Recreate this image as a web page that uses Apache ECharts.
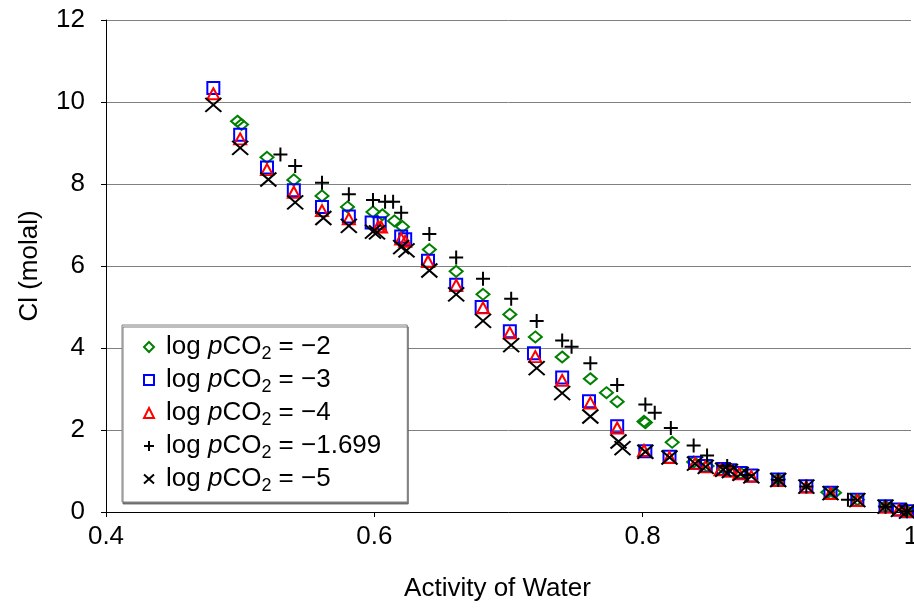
<!DOCTYPE html>
<html>
<head>
<meta charset="utf-8">
<script src="https://cdn.jsdelivr.net/npm/echarts@6/dist/echarts.min.js"></script>
<style>html,body{margin:0;padding:0;background:#fff}#c{width:914px;height:608px}</style>
</head>
<body>
<div id="c"></div>
<script>
// ---- data (x = activity of water, y = Cl molal) ----
var pco2Labels = ['−2', '−3', '−4', '−1.699', '−5'];
var xTicks = ['0.4', '0.6', '0.8', '1'];
var yTicks = ['0', '2', '4', '6', '8', '10', '12'];

var seriesM2 = [[0.498,9.53],[0.501,9.45],[0.520,8.65],[0.540,8.10],[0.561,7.71],[0.580,7.44],[0.599,7.32],[0.606,7.25],[0.615,7.10],[0.621,6.96],[0.641,6.40],[0.661,5.87],[0.681,5.31],[0.701,4.82],[0.720,4.27],[0.740,3.78],[0.761,3.25],[0.773,2.91],[0.781,2.69],[0.801,2.21],[0.802,2.18],[0.822,1.70],[0.838,1.22],[0.848,1.12],[0.861,1.05],[0.873,0.95],[0.901,0.80],[0.938,0.48],[0.943,0.47],[0.960,0.30],[0.981,0.14],[0.997,0.02]];
var seriesM3 = [[0.480,10.34],[0.500,9.20],[0.520,8.40],[0.540,7.85],[0.561,7.44],[0.581,7.21],[0.598,7.06],[0.604,7.04],[0.620,6.72],[0.623,6.65],[0.640,6.13],[0.661,5.54],[0.680,5.00],[0.701,4.41],[0.719,3.87],[0.740,3.28],[0.760,2.70],[0.781,2.09],[0.802,1.48],[0.820,1.35],[0.839,1.20],[0.847,1.12],[0.860,1.05],[0.865,1.02],[0.873,0.95],[0.881,0.89],[0.901,0.79],[0.922,0.63],[0.940,0.47],[0.960,0.30],[0.981,0.14],[0.991,0.06],[0.997,0.02]];
var seriesM4 = [[0.480,10.20],[0.500,9.10],[0.520,8.35],[0.540,7.80],[0.561,7.35],[0.581,7.15],[0.603,6.96],[0.605,6.95],[0.620,6.66],[0.623,6.60],[0.640,6.11],[0.661,5.53],[0.681,4.98],[0.701,4.37],[0.720,3.79],[0.740,3.21],[0.761,2.66],[0.781,2.05],[0.801,1.50],[0.820,1.33],[0.839,1.18],[0.847,1.10],[0.858,1.03],[0.866,1.00],[0.872,0.93],[0.881,0.87],[0.901,0.77],[0.922,0.61],[0.940,0.45],[0.960,0.28],[0.981,0.12],[0.991,0.05],[0.997,0.01]];
var seriesM1699 = [[0.530,8.72],[0.541,8.44],[0.561,8.03],[0.581,7.75],[0.599,7.61],[0.608,7.57],[0.614,7.57],[0.620,7.30],[0.641,6.78],[0.661,6.21],[0.681,5.69],[0.702,5.20],[0.721,4.66],[0.740,4.18],[0.747,4.03],[0.761,3.63],[0.781,3.10],[0.802,2.62],[0.809,2.42],[0.821,2.05],[0.838,1.62],[0.848,1.38],[0.863,1.12],[0.878,0.90],[0.901,0.78],[0.922,0.62],[0.953,0.30],[0.981,0.13],[0.997,0.02]];
var seriesM5 = [[0.480,9.93],[0.500,8.88],[0.521,8.11],[0.541,7.55],[0.562,7.17],[0.581,6.98],[0.599,6.84],[0.602,6.82],[0.620,6.46],[0.624,6.38],[0.641,5.89],[0.661,5.31],[0.681,4.66],[0.702,4.07],[0.721,3.51],[0.740,2.90],[0.761,2.33],[0.782,1.72],[0.785,1.56],[0.802,1.47],[0.820,1.33],[0.839,1.18],[0.847,1.10],[0.860,1.03],[0.865,1.00],[0.873,0.93],[0.881,0.87],[0.901,0.78],[0.922,0.62],[0.940,0.46],[0.960,0.29],[0.981,0.13],[0.991,0.05],[0.997,0.01]];

var FONT = 'Liberation Sans, Arial, sans-serif';
var chart = echarts.init(document.getElementById('c'), null, {renderer: 'canvas'});

function mk(nameIdx, data, symbol, size, color) {
  return {
    type: 'scatter',
    name: pco2Labels[nameIdx],
    data: data,
    symbol: symbol,
    symbolSize: size,
    itemStyle: {color: 'transparent', borderColor: color, borderWidth: 2, opacity: 1},
    emphasis: {disabled: true},
    z: 2 + nameIdx
  };
}

var option = {
  animation: false,
  backgroundColor: '#fff',
  grid: {left: 106, right: 3, top: 20, bottom: 96, outerBoundsMode: 'none'},
  legend: {
    orient: 'vertical',
    left: 122,
    top: 325,
    padding: [9, 26, 7, 21],
    itemGap: 4,
    itemWidth: 10,
    itemHeight: 10,
    backgroundColor: '#fff',
    borderColor: '#808080',
    borderWidth: 1,
    shadowColor: 'rgba(90,90,90,0.8)',
    shadowBlur: 0,
    shadowOffsetX: 1,
    shadowOffsetY: 2,
    selectedMode: false,
    data: pco2Labels,
    formatter: function (name) {
      return '{t|log }{i|p}{t|CO}{s|2}{t| = ' + name + '}';
    },
    textStyle: {
      fontFamily: FONT, fontSize: 26, color: '#000',
      padding: [0, 0, 0, 7],
      rich: {
        t: {fontFamily: FONT, fontSize: 26, lineHeight: 32, color: '#000'},
        i: {fontFamily: FONT, fontSize: 26, lineHeight: 32, fontStyle: 'italic', color: '#000'},
        s: {fontFamily: FONT, fontSize: 18, lineHeight: 18, verticalAlign: 'bottom', color: '#000'}
      }
    }
  },
  xAxis: {
    type: 'value',
    min: 0.4, max: 1.0, interval: 0.2,
    name: 'Activity of Water',
    nameLocation: 'middle',
    nameGap: 64,
    nameTextStyle: {fontFamily: FONT, fontSize: 26, color: '#000', padding: [0, 22, 0, 0]},
    axisLine: {show: true, onZero: false, lineStyle: {color: '#000', width: 1}},
    axisTick: {show: true, inside: false, length: 5, lineStyle: {color: '#000'}},
    axisLabel: {
      fontFamily: FONT, fontSize: 26, color: '#000', margin: 12,
      formatter: function (v) { return xTicks[Math.round((v - 0.4) / 0.2)]; }
    },
    splitLine: {show: false}
  },
  yAxis: {
    type: 'value',
    min: 0, max: 12, interval: 2,
    name: 'Cl (molal)',
    nameLocation: 'middle',
    nameGap: 63,
    nameRotate: 90,
    nameTextStyle: {fontFamily: FONT, fontSize: 26, color: '#000'},
    axisLine: {show: true, lineStyle: {color: '#000', width: 1}},
    axisTick: {show: true, inside: false, length: 5, lineStyle: {color: '#000'}},
    axisLabel: {
      fontFamily: FONT, fontSize: 26, color: '#000', margin: 21,
      formatter: function (v) { return yTicks[Math.round(v / 2)]; }
    },
    splitLine: {show: true, lineStyle: {color: '#808080', width: 1}}
  },
  series: [
    mk(0, seriesM2, 'diamond', [13, 11], '#008000'),
    mk(1, seriesM3, 'rect', [12, 12], '#0000ff'),
    mk(2, seriesM4, 'triangle', [12, 11], '#ff0000'),
    mk(3, seriesM1699, 'path://M0,5L10,5M5,0L5,10', [14, 14], '#000000'),
    mk(4, seriesM5, 'path://M0,0L10,9M10,0L0,9', [16, 14], '#000000')
  ]
};
chart.setOption(option);
</script>
</body>
</html>
